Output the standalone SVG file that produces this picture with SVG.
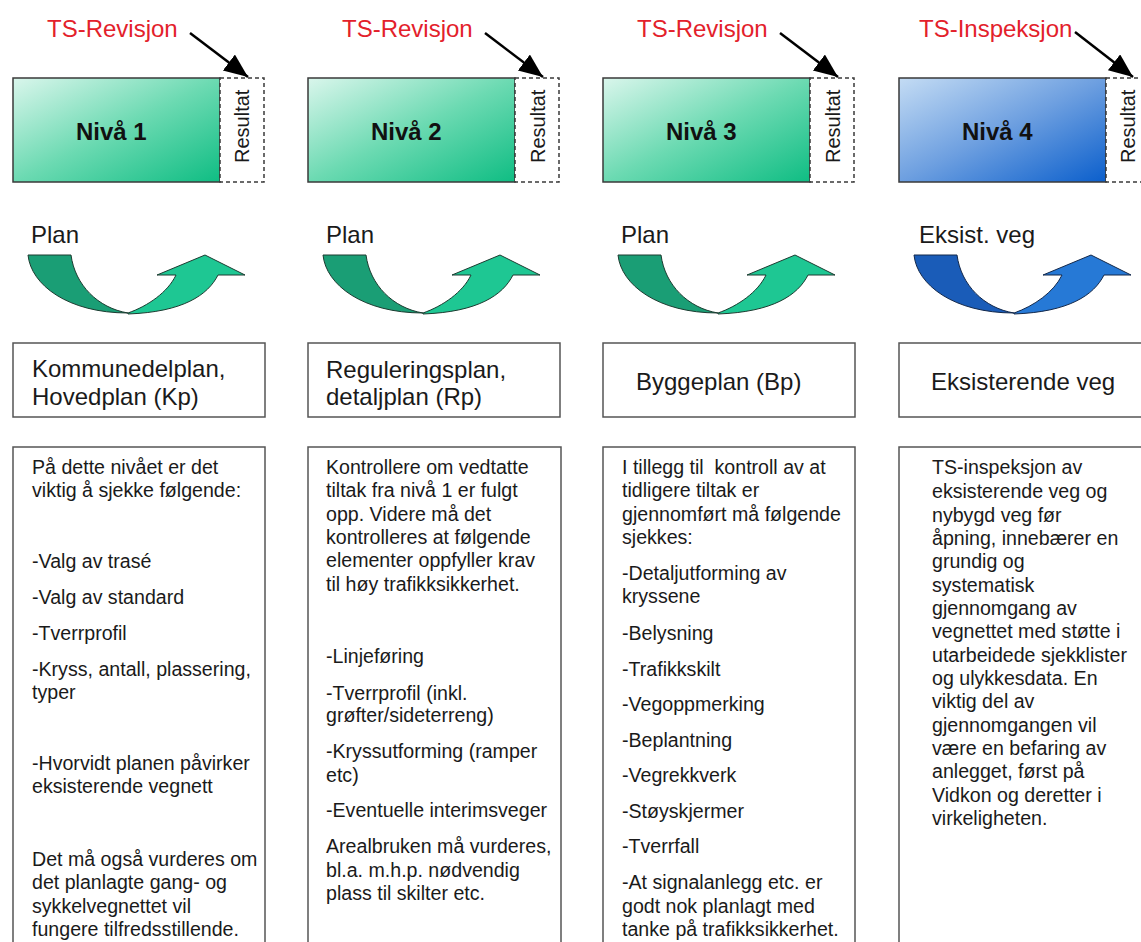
<svg xmlns="http://www.w3.org/2000/svg" width="1141" height="942" viewBox="0 0 1141 942">
<style>
text{font-family:"Liberation Sans",Arial,sans-serif;fill:#1a1a1a}
.ts{font-size:24px;fill:#e3212b}
.niva{font-size:24px;font-weight:bold;fill:#111}
.res{font-size:20px}
.plan{font-size:24px}
.head{font-size:24px}
.body{font-size:19.6px}
.lvl{stroke:#3a3a3a;stroke-width:1.5}
.dash{fill:#fff;stroke:#3a3a3a;stroke-width:1.5;stroke-dasharray:4 3}
.box{fill:#fff;stroke:#555;stroke-width:1.5}
.conn{stroke:#000;stroke-width:2.5;fill:none}
.gl{fill:#1a9e75;stroke:#1c3b30;stroke-width:1}
.gr{fill:#1ec793;stroke:#1c3b30;stroke-width:1}
.bl{fill:#1a5cb8;stroke:#13284a;stroke-width:1}
.br{fill:#2679d6;stroke:#13284a;stroke-width:1}
</style>
<defs>
<linearGradient id="gGreen" x1="0" y1="0" x2="1" y2="1">
<stop offset="0" stop-color="#daf6ec"/>
<stop offset="0.5" stop-color="#6cdab2"/>
<stop offset="1" stop-color="#0fbd83"/>
</linearGradient>
<linearGradient id="gBlue" x1="0" y1="0" x2="1" y2="1">
<stop offset="0" stop-color="#c4dcf4"/>
<stop offset="0.5" stop-color="#6d9fe0"/>
<stop offset="1" stop-color="#0b5fcc"/>
</linearGradient>
<marker id="ah" markerUnits="userSpaceOnUse" markerWidth="26" markerHeight="22" refX="24" refY="10" orient="auto">
<path d="M0,0 L24,10 L0,20 Z" fill="#000"/>
</marker>
<path id="arrL" d="M15,255 L58,255 C62,285 85,308 115,313 C55,313 18,285 15,255 Z"/>
<path id="arrR" d="M115,313 C135,306 155,292 163,275 L144,275 L192,255 L232,275 L205,275 C195,295 170,312 115,314 Z"/>
</defs>
<rect width="1141" height="942" fill="#fff"/>

<g id="col1">
<text class="ts" x="47" y="37">TS-Revisjon</text>
<rect class="lvl" x="13" y="78" width="207" height="104" fill="url(#gGreen)"/>
<rect class="dash" x="220" y="78" width="44" height="104"/>
<text class="niva" x="76" y="140">Nivå 1</text>
<text class="res" transform="translate(249,163) rotate(-90)">Resultat</text>
<text class="plan" x="31" y="243">Plan</text>
<g transform="translate(13,0)"><use href="#arrL" class="gl"/><use href="#arrR" class="gr"/></g>
<rect class="box" x="13" y="343" width="252" height="74"/>
<text class="head" x="32" y="377">Kommunedelplan,</text>
<text class="head" x="32" y="405">Hovedplan (Kp)</text>
<rect class="box" x="13" y="447" width="252" height="510"/>
<text class="body">
<tspan x="32" y="474">På dette nivået er det</tspan>
<tspan x="32" y="497">viktig å sjekke følgende:</tspan>
<tspan x="32" y="568">-Valg av trasé</tspan>
<tspan x="32" y="604">-Valg av standard</tspan>
<tspan x="32" y="640">-Tverrprofil</tspan>
<tspan x="32" y="676">-Kryss, antall, plassering,</tspan>
<tspan x="32" y="699">typer</tspan>
<tspan x="32" y="770">-Hvorvidt planen påvirker</tspan>
<tspan x="32" y="793">eksisterende vegnett</tspan>
<tspan x="32" y="866">Det må også vurderes om</tspan>
<tspan x="32" y="889">det planlagte gang- og</tspan>
<tspan x="32" y="913">sykkelvegnettet vil</tspan>
<tspan x="32" y="936">fungere tilfredsstillende.</tspan>
</text>
</g>

<g id="col2">
<text class="ts" x="342" y="37">TS-Revisjon</text>
<rect class="lvl" x="308" y="78" width="207" height="104" fill="url(#gGreen)"/>
<rect class="dash" x="515" y="78" width="44" height="104"/>
<text class="niva" x="371" y="140">Nivå 2</text>
<text class="res" transform="translate(545,163) rotate(-90)">Resultat</text>
<text class="plan" x="326" y="243">Plan</text>
<g transform="translate(308,0)"><use href="#arrL" class="gl"/><use href="#arrR" class="gr"/></g>
<rect class="box" x="308" y="343" width="252" height="74"/>
<text class="head" x="326" y="378">Reguleringsplan,</text>
<text class="head" x="326" y="405">detaljplan (Rp)</text>
<rect class="box" x="308" y="447" width="253" height="510"/>
<text class="body">
<tspan x="326" y="474">Kontrollere om vedtatte</tspan>
<tspan x="326" y="497">tiltak fra nivå 1 er fulgt</tspan>
<tspan x="326" y="521">opp. Videre må det</tspan>
<tspan x="326" y="544">kontrolleres at følgende</tspan>
<tspan x="326" y="567">elementer oppfyller krav</tspan>
<tspan x="326" y="591">til høy trafikksikkerhet.</tspan>
<tspan x="326" y="663">-Linjeføring</tspan>
<tspan x="326" y="700">-Tverrprofil (inkl.</tspan>
<tspan x="326" y="722">grøfter/sideterreng)</tspan>
<tspan x="326" y="758">-Kryssutforming (ramper</tspan>
<tspan x="326" y="782">etc)</tspan>
<tspan x="326" y="817">-Eventuelle interimsveger</tspan>
<tspan x="326" y="853">Arealbruken må vurderes,</tspan>
<tspan x="326" y="877">bl.a. m.h.p. nødvendig</tspan>
<tspan x="326" y="900">plass til skilter etc.</tspan>
</text>
</g>

<g id="col3">
<text class="ts" x="637" y="37">TS-Revisjon</text>
<rect class="lvl" x="603" y="78" width="207" height="104" fill="url(#gGreen)"/>
<rect class="dash" x="810" y="78" width="44" height="104"/>
<text class="niva" x="666" y="140">Nivå 3</text>
<text class="res" transform="translate(840,163) rotate(-90)">Resultat</text>
<text class="plan" x="621" y="243">Plan</text>
<g transform="translate(603,0)"><use href="#arrL" class="gl"/><use href="#arrR" class="gr"/></g>
<rect class="box" x="603" y="343" width="252" height="74"/>
<text class="head" x="636" y="390">Byggeplan (Bp)</text>
<rect class="box" x="603" y="447" width="252" height="510"/>
<text class="body">
<tspan x="622" y="474" style="white-space:pre">I tillegg til  kontroll av at</tspan>
<tspan x="622" y="497">tidligere tiltak er</tspan>
<tspan x="622" y="521">gjennomført må følgende</tspan>
<tspan x="622" y="544">sjekkes:</tspan>
<tspan x="622" y="580">-Detaljutforming av</tspan>
<tspan x="622" y="603">kryssene</tspan>
<tspan x="622" y="640">-Belysning</tspan>
<tspan x="622" y="676">-Trafikkskilt</tspan>
<tspan x="622" y="711">-Vegoppmerking</tspan>
<tspan x="622" y="747">-Beplantning</tspan>
<tspan x="622" y="782">-Vegrekkverk</tspan>
<tspan x="622" y="818">-Støyskjermer</tspan>
<tspan x="622" y="853">-Tverrfall</tspan>
<tspan x="622" y="889">-At signalanlegg etc. er</tspan>
<tspan x="622" y="913">godt nok planlagt med</tspan>
<tspan x="622" y="936">tanke på trafikksikkerhet.</tspan>
</text>
</g>

<g id="col4">
<text class="ts" x="919" y="37">TS-Inspeksjon</text>
<rect class="lvl" x="899" y="78" width="207" height="104" fill="url(#gBlue)"/>
<rect class="dash" x="1106" y="78" width="44" height="104"/>
<text class="niva" x="962" y="140">Nivå 4</text>
<text class="res" transform="translate(1135,163) rotate(-90)">Resultat</text>
<text class="plan" x="919" y="243">Eksist. veg</text>
<g transform="translate(899,0)"><use href="#arrL" class="bl"/><use href="#arrR" class="br"/></g>
<rect class="box" x="899" y="343" width="260" height="74"/>
<text class="head" x="931" y="390">Eksisterende veg</text>
<rect class="box" x="899" y="447" width="260" height="510"/>
<text class="body">
<tspan x="932" y="474">TS-inspeksjon av</tspan>
<tspan x="932" y="498">eksisterende veg og</tspan>
<tspan x="932" y="522">nybygd veg før</tspan>
<tspan x="932" y="545">åpning, innebærer en</tspan>
<tspan x="932" y="568">grundig og</tspan>
<tspan x="932" y="592">systematisk</tspan>
<tspan x="932" y="615">gjennomgang av</tspan>
<tspan x="932" y="638">vegnettet med støtte i</tspan>
<tspan x="932" y="662">utarbeidede sjekklister</tspan>
<tspan x="932" y="685">og ulykkesdata. En</tspan>
<tspan x="932" y="708">viktig del av</tspan>
<tspan x="932" y="732">gjennomgangen vil</tspan>
<tspan x="932" y="755">være en befaring av</tspan>
<tspan x="932" y="778">anlegget, først på</tspan>
<tspan x="932" y="802">Vidkon og deretter i</tspan>
<tspan x="932" y="825">virkeligheten.</tspan>
</text>
</g>

<g id="connectors">
<line class="conn" x1="190" y1="33" x2="248" y2="77" marker-end="url(#ah)"/>
<line class="conn" x1="485" y1="33" x2="543" y2="77" marker-end="url(#ah)"/>
<line class="conn" x1="780" y1="33" x2="838" y2="77" marker-end="url(#ah)"/>
<line class="conn" x1="1075" y1="32" x2="1133" y2="77" marker-end="url(#ah)"/>
</g>
</svg>
